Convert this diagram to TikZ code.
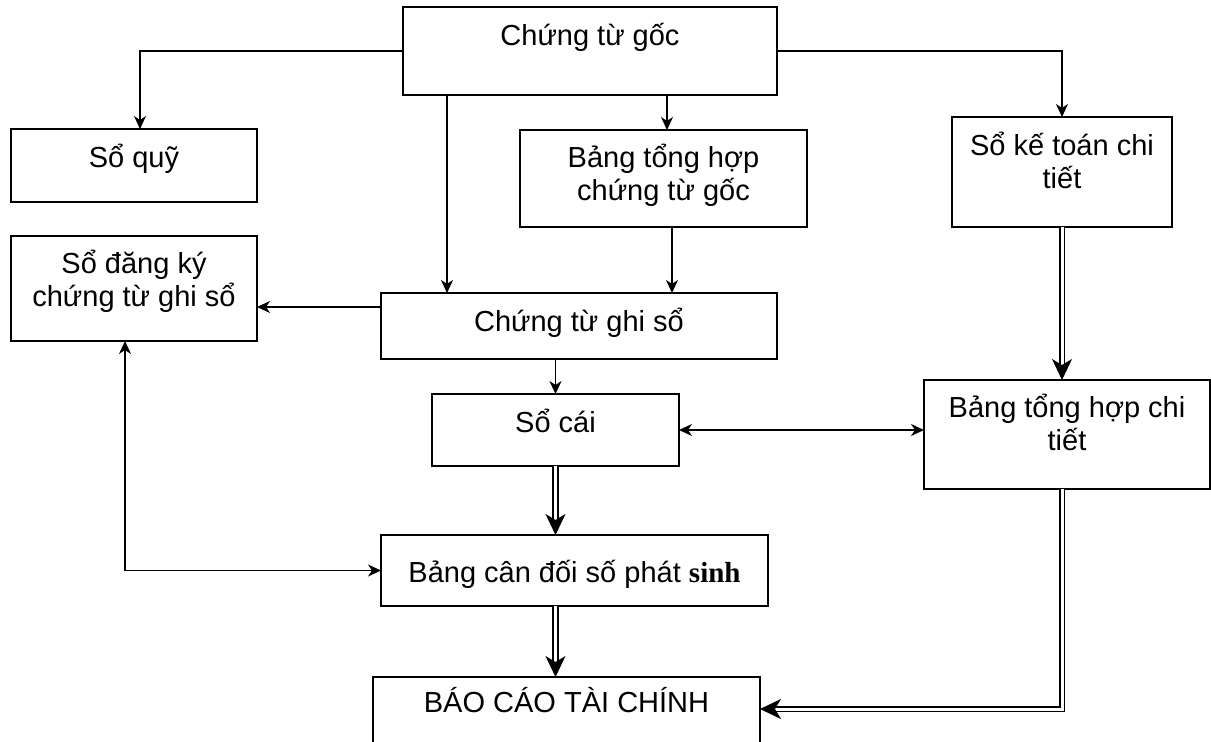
\documentclass[tikz,border=0pt]{standalone}
\usepackage{fontspec}
\setmainfont{Liberation Sans}
\newfontfamily\timesfont{Liberation Serif}
\usepackage{tikz}
\usetikzlibrary{arrows.meta}
\tikzset{
    box/.style n args={3}{
        draw, line width=1.8pt, inner sep=0pt, outer sep=0pt, anchor=north west,
        execute at begin node={\begin{minipage}[c][#2pt][t]{#1pt}\centering
            \fontsize{29}{33}\selectfont\lineskiplimit=-100pt\rule{0pt}{#3pt}},
        execute at end node={\end{minipage}}
    },
    arr/.style={line width=1.8pt, -{Stealth[length=13pt,width=12pt,inset=4pt]}},
    arrb/.style={line width=1.8pt, {Stealth[length=13pt,width=12pt,inset=4pt]}-{Stealth[length=13pt,width=12pt,inset=4pt]}},
    dbl/.style={double, double distance=3pt, line width=1.7pt, -{Stealth[length=21pt,width=20pt,inset=6pt]}}
}

\begin{document}
\begin{tikzpicture}[x=1pt, y=-1pt]
    \useasboundingbox (0,0) rectangle (1211,742);
    \node[box={374}{88}{38}] (goc) at (403,7) {Chứng từ gốc};
    \node[box={246}{73}{38}] (quy) at (11,129) {Sổ quỹ};
    \node[box={287}{97}{37}] (thgoc) at (520,130) {Bảng tổng hợp\\chứng từ gốc};
    \node[box={220}{110}{38}] (ktct) at (952,117) {Sổ kế toán chi\\tiết};
    \node[box={246}{105}{37}] (dk) at (11,236) {Sổ đăng ký\\chứng từ ghi sổ};
    \node[box={396}{66}{38}] (ctgs) at (381,293) {Chứng từ ghi sổ};
    \node[box={247}{72}{38}] (cai) at (432,394) {Sổ cái};
    \node[box={286}{109}{37}] (thct) at (924,380) {Bảng tổng hợp chi\\tiết};
    \node[box={387}{71}{47}] (cdps) at (381,535) {Bảng cân đối số phát {\timesfont\bfseries sinh}};
    \node[box={387}{90}{35}] (bctc) at (373,677) {BÁO CÁO TÀI CHÍNH};
    \coordinate (xa) at (140,0);
    \coordinate (xb) at (447,0);
    \coordinate (xc) at (667,0);
    \coordinate (xd) at (672,0);
    \coordinate (xf) at (125,0);
    \coordinate (yd) at (0,307);
    \coordinate (yh) at (0,709);
    \draw[arr] (goc.west) -| (quy.north -| xa);
    \draw[arr] (goc.east) -| (ktct.north);
    \draw[arr] (goc.south -| xb) -- (ctgs.north -| xb);
    \draw[arr] (goc.south -| xc) -- (thgoc.north -| xc);
    \draw[arr] (thgoc.south -| xd) -- (ctgs.north -| xd);
    \draw[arr] (ctgs.west |- yd) -- (dk.east |- yd);
    \draw[arr] (ctgs.south -| cai.north) -- (cai.north);
    \draw[arrb] (cai.east) -- (cai.east -| thct.west);
    \draw[arrb] (dk.south -| xf) |- (cdps.west);
    \draw[dbl] (cai.south) -- (cai.south |- cdps.north);
    \draw[dbl] (cdps.south -| cai.south) -- (bctc.north -| cai.south);
    \draw[dbl] (ktct.south) -- (ktct.south |- thct.north);
    \draw[dbl] (thct.south -| ktct.south) |- (bctc.east |- yh);
\end{tikzpicture}
\end{document}
